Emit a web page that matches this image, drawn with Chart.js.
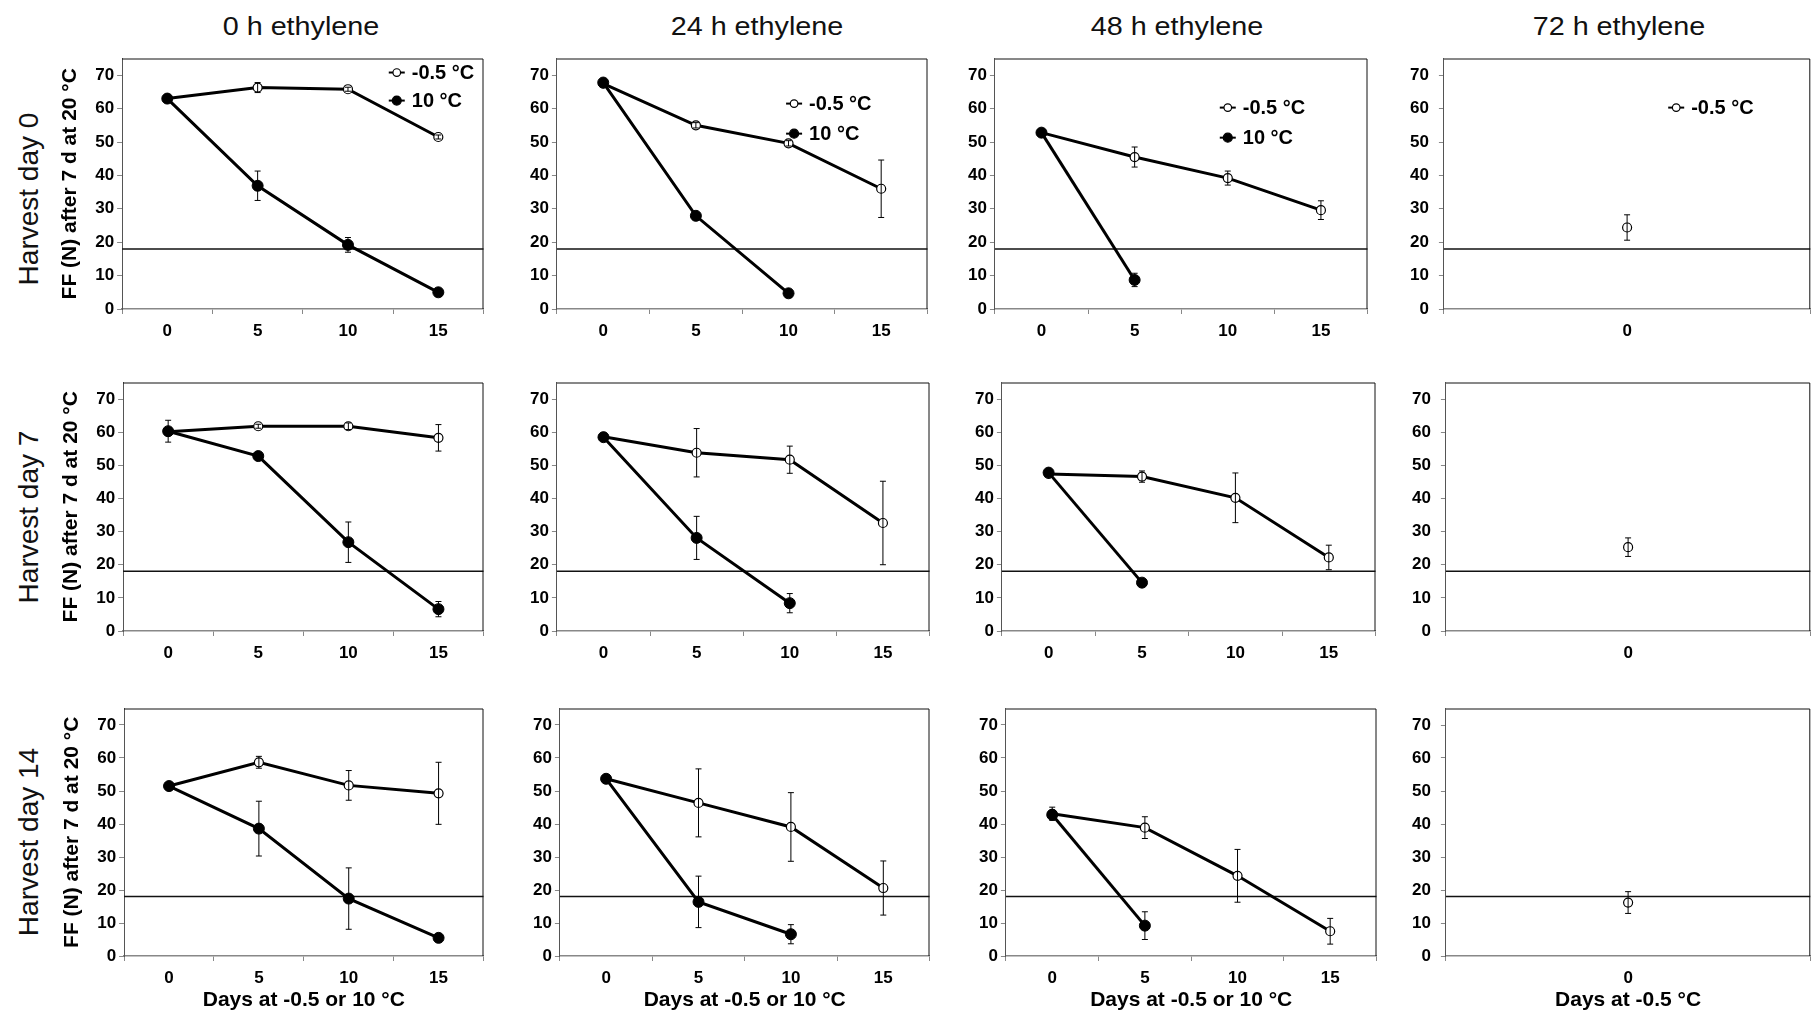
<!DOCTYPE html>
<html>
<head>
<meta charset="utf-8">
<script src="https://cdn.jsdelivr.net/npm/chart.js@4.4.0/dist/chart.umd.min.js"></script>
<style>
body { margin:0; background:#fff; width:1811px; height:1018px; overflow:hidden; position:relative; font-family:"Liberation Sans", Arial, sans-serif; }
canvas { position:absolute; }
.colt { position:absolute; top:11px; font-size:25px; line-height:30px; color:#111; white-space:nowrap; transform:translateX(-50%) scaleX(1.15); }
.rowt { position:absolute; font-size:28px; line-height:30px; color:#111; white-space:nowrap; transform:translate(-50%,-50%) rotate(-90deg); }
</style>
</head>
<body>
<script>
var dayLabels = ['0', '5', '10', '15'];
var dayLabels72 = ['0'];
var ethyleneTitles = ['0 h ethylene', '24 h ethylene', '48 h ethylene', '72 h ethylene'];
var harvestTitles = ['Harvest day 0', 'Harvest day 7', 'Harvest day 14'];
var seriesNames = ['-0.5 °C', '10 °C'];
var yTicks = [0, 10, 20, 30, 40, 50, 60, 70];
var yMax = 75;
var threshold = 18;
var yTitle = 'FF (N) after 7 d at 20 °C';
var xTitle = 'Days at -0.5 or 10 °C';
var xTitle72 = 'Days at -0.5 °C';

// harvest day 0
var h0e0Cold = [63.0, 66.3, 65.8, 51.5];
var h0e0ColdErr = [0.6, 1.5, 0.6, 0.6];
var h0e0Warm = [63.0, 36.9, 19.2, 5.0];
var h0e0WarmErr = [0.6, 4.4, 2.2, 0.6];
var h0e24Cold = [67.5, 55.0, 49.6, 36.0];
var h0e24ColdErr = [0.6, 0.8, 0.8, 8.6];
var h0e24Warm = [67.8, 27.9, 4.7];
var h0e24WarmErr = [0.6, 0.6, 0.6];
var h0e48Cold = [52.8, 45.5, 39.2, 29.6];
var h0e48ColdErr = [0.6, 3.0, 2.1, 2.8];
var h0e48Warm = [52.8, 8.7];
var h0e48WarmErr = [0.6, 2.0];
var h0e72Cold = [24.4];
var h0e72ColdErr = [3.8];

// harvest day 7
var h7e0Cold = [60.1, 61.8, 61.8, 58.3];
var h7e0ColdErr = [0.6, 0.6, 1.0, 4.0];
var h7e0Warm = [60.3, 52.8, 26.8, 6.6];
var h7e0WarmErr = [3.3, 1.0, 6.1, 2.3];
var h7e24Cold = [58.6, 53.8, 51.7, 32.6];
var h7e24ColdErr = [0.6, 7.3, 4.1, 12.6];
var h7e24Warm = [58.5, 28.1, 8.4];
var h7e24WarmErr = [0.6, 6.5, 2.9];
var h7e48Cold = [47.4, 46.6, 40.2, 22.2];
var h7e48ColdErr = [0.6, 1.7, 7.5, 3.7];
var h7e48Warm = [47.8, 14.6];
var h7e48WarmErr = [0.6, 0.6];
var h7e72Cold = [25.3];
var h7e72ColdErr = [2.8];

// harvest day 14
var h14e0Cold = [51.5, 58.7, 51.7, 49.3];
var h14e0ColdErr = [0.6, 1.8, 4.5, 9.4];
var h14e0Warm = [51.5, 38.6, 17.4, 5.5];
var h14e0WarmErr = [0.6, 8.3, 9.3, 0.6];
var h14e24Cold = [53.7, 46.4, 39.1, 20.6];
var h14e24ColdErr = [0.6, 10.3, 10.4, 8.2];
var h14e24Warm = [53.7, 16.4, 6.6];
var h14e24WarmErr = [0.8, 7.8, 2.9];
var h14e48Cold = [43.1, 38.9, 24.3, 7.5];
var h14e48ColdErr = [2.0, 3.3, 8.0, 3.9];
var h14e48Warm = [42.8, 9.2];
var h14e48WarmErr = [0.6, 4.2];
var h14e72Cold = [16.2];
var h14e72ColdErr = [3.3];

var panels = [
    [
        {cold: h0e0Cold, coldErr: h0e0ColdErr, warm: h0e0Warm, warmErr: h0e0WarmErr},
        {cold: h0e24Cold, coldErr: h0e24ColdErr, warm: h0e24Warm, warmErr: h0e24WarmErr},
        {cold: h0e48Cold, coldErr: h0e48ColdErr, warm: h0e48Warm, warmErr: h0e48WarmErr},
        {cold: h0e72Cold, coldErr: h0e72ColdErr}
    ],
    [
        {cold: h7e0Cold, coldErr: h7e0ColdErr, warm: h7e0Warm, warmErr: h7e0WarmErr},
        {cold: h7e24Cold, coldErr: h7e24ColdErr, warm: h7e24Warm, warmErr: h7e24WarmErr},
        {cold: h7e48Cold, coldErr: h7e48ColdErr, warm: h7e48Warm, warmErr: h7e48WarmErr},
        {cold: h7e72Cold, coldErr: h7e72ColdErr}
    ],
    [
        {cold: h14e0Cold, coldErr: h14e0ColdErr, warm: h14e0Warm, warmErr: h14e0WarmErr},
        {cold: h14e24Cold, coldErr: h14e24ColdErr, warm: h14e24Warm, warmErr: h14e24WarmErr},
        {cold: h14e48Cold, coldErr: h14e48ColdErr, warm: h14e48Warm, warmErr: h14e48WarmErr},
        {cold: h14e72Cold, coldErr: h14e72ColdErr}
    ]
];

// plot boxes on the page
var rowBoxes = [{t: 58, b: 308}, {t: 382, b: 630}, {t: 708, b: 955}];
var colBoxes = [
    [[122, 483], [557, 928], [995, 1368], [1444, 1810]],
    [[123, 483], [557, 930], [1002, 1376], [1446, 1810]],
    [[124, 483], [560, 930], [1006, 1377], [1446, 1810]]
];
var legendPos = [
    {x: 0.76, y: [0.056, 0.168]},
    {x: 0.64, y: [0.18, 0.30]},
    {x: 0.625, y: [0.196, 0.316]},
    {x: 0.634, y: [0.196]}
];
var titleX = [301, 757, 1177, 1619];
var rowTitleY = [199, 517, 842];

var FONT = '"Liberation Sans", Arial, sans-serif';

// titles
ethyleneTitles.forEach(function (t, i) {
    var d = document.createElement('div');
    d.className = 'colt';
    d.style.left = titleX[i] + 'px';
    d.textContent = t;
    document.body.appendChild(d);
});
harvestTitles.forEach(function (t, i) {
    var d = document.createElement('div');
    d.className = 'rowt';
    d.style.left = '29px';
    d.style.top = rowTitleY[i] + 'px';
    d.textContent = t;
    document.body.appendChild(d);
});

// plugins
var boxFrame = {
    id: 'boxFrame',
    afterDraw: function (chart) {
        var ca = chart.chartArea, ctx = chart.ctx;
        ctx.save();
        ctx.strokeStyle = '#111';
        ctx.lineWidth = 1;
        ctx.beginPath();
        ctx.moveTo(ca.left, ca.top + 0.5);
        ctx.lineTo(ca.right - 0.5, ca.top + 0.5);
        ctx.lineTo(ca.right - 0.5, ca.bottom);
        ctx.stroke();
        ctx.restore();
    }
};
var thresholdLine = {
    id: 'thresholdLine',
    beforeDatasetsDraw: function (chart) {
        var ca = chart.chartArea, ctx = chart.ctx;
        var y = chart.scales.y.getPixelForValue(threshold);
        ctx.save();
        ctx.strokeStyle = '#111';
        ctx.lineWidth = 1.5;
        ctx.beginPath();
        ctx.moveTo(ca.left, y);
        ctx.lineTo(ca.right, y);
        ctx.stroke();
        ctx.restore();
    }
};
var errorBars = {
    id: 'errorBars',
    afterDatasetsDraw: function (chart) {
        var ctx = chart.ctx, ys = chart.scales.y;
        chart.data.datasets.forEach(function (ds, di) {
            var meta = chart.getDatasetMeta(di);
            if (!ds.errors) return;
            meta.data.forEach(function (pt, i) {
                var e = ds.errors[i];
                if (!e) return;
                var top = ys.getPixelForValue(ds.data[i] + e);
                var bot = ys.getPixelForValue(ds.data[i] - e);
                ctx.save();
                ctx.strokeStyle = '#000';
                ctx.lineWidth = 1;
                ctx.beginPath();
                ctx.moveTo(pt.x, top); ctx.lineTo(pt.x, bot);
                ctx.moveTo(pt.x - 3, top); ctx.lineTo(pt.x + 3, top);
                ctx.moveTo(pt.x - 3, bot); ctx.lineTo(pt.x + 3, bot);
                ctx.stroke();
                ctx.restore();
            });
        });
    }
};
var panelLegend = {
    id: 'panelLegend',
    afterDraw: function (chart, args, opts) {
        if (!opts || !opts.show) return;
        var ca = chart.chartArea, ctx = chart.ctx;
        opts.items.forEach(function (it, i) {
            var x = ca.left + opts.x * (ca.right - ca.left);
            var y = ca.top + opts.y[i] * (ca.bottom - ca.top);
            ctx.save();
            ctx.strokeStyle = '#000';
            ctx.lineWidth = 2;
            ctx.beginPath(); ctx.moveTo(x - 8, y); ctx.lineTo(x + 8, y); ctx.stroke();
            ctx.beginPath();
            ctx.arc(x, y, it.filled ? 4.5 : 3.8, 0, 2 * Math.PI);
            ctx.fillStyle = it.filled ? '#000' : '#fff';
            ctx.fill();
            ctx.lineWidth = 1.2;
            ctx.stroke();
            ctx.font = 'bold 20px ' + FONT;
            ctx.fillStyle = '#000';
            ctx.textBaseline = 'middle';
            ctx.fillText(it.text, x + 15, y + 1);
            ctx.restore();
        });
    }
};

function makeConfig(r, c) {
    var p = panels[r][c];
    var datasets = [];
    var items = [{text: seriesNames[0], filled: false}];
    if (p.warm) {
        datasets.push({
            label: seriesNames[1], data: p.warm, errors: p.warmErr,
            borderColor: '#000', backgroundColor: '#000', borderWidth: 3,
            pointRadius: 5.5, pointBackgroundColor: '#000', pointBorderColor: '#000', pointBorderWidth: 1
        });
        items.push({text: seriesNames[1], filled: true});
    }
    datasets.push({
        label: seriesNames[0], data: p.cold, errors: p.coldErr,
        borderColor: '#000', backgroundColor: '#fff', borderWidth: 3, showLine: c < 3,
        pointRadius: 4.5, pointBackgroundColor: '#fff', pointBorderColor: '#000', pointBorderWidth: 1.2
    });
    var tickFont = {family: FONT, size: 17, weight: 'bold', lineHeight: 1.0};
    return {
        type: 'line',
        data: {labels: c < 3 ? dayLabels : dayLabels72, datasets: datasets},
        options: {
            responsive: false,
            animation: false,
            devicePixelRatio: 1,
            layout: {padding: {left: 0, right: 2, top: 2, bottom: 2}},
            scales: {
                x: {
                    type: 'category', offset: true,
                    grid: {offset: true, drawOnChartArea: false, drawTicks: true, tickLength: 5, color: '#888'},
                    border: {display: true, color: '#888', width: 1.5},
                    ticks: {color: '#000', font: tickFont, padding: 9, maxRotation: 0, autoSkip: false},
                    title: {display: r === 2, text: c < 3 ? xTitle : xTitle72, color: '#000',
                        font: {family: FONT, size: 21, weight: 'bold', lineHeight: 1.0}, padding: {top: -6, bottom: 0}}
                },
                y: {
                    min: 0, max: yMax,
                    afterBuildTicks: function (s) { s.ticks = yTicks.map(function (v) { return {value: v}; }); },
                    grid: {drawOnChartArea: false, drawTicks: true, tickLength: 5, color: '#888'},
                    border: {display: true, color: '#555', width: 1},
                    ticks: {color: '#000', font: tickFont, padding: c === 3 ? 10 : 3},
                    title: {display: c === 0, text: yTitle, color: '#000',
                        font: {family: FONT, size: 21, weight: 'bold'}, padding: {top: 2, bottom: 9}}
                }
            },
            plugins: {
                legend: {display: false},
                tooltip: {enabled: false},
                panelLegend: {show: r === 0, items: items, x: legendPos[c].x, y: legendPos[c].y}
            }
        },
        plugins: [thresholdLine, errorBars, boxFrame, panelLegend]
    };
}

function buildPanel(r, c) {
    var box = {l: colBoxes[r][c][0], r: colBoxes[r][c][1], t: rowBoxes[r].t, b: rowBoxes[r].b};
    var cv = document.createElement('canvas');
    cv.width = 500;
    cv.height = 340;
    document.body.appendChild(cv);
    var chart = new Chart(cv, makeConfig(r, c));
    var ca = chart.chartArea;
    var mL = ca.left, mT = ca.top, mR = chart.width - ca.right, mB = chart.height - ca.bottom;
    chart.destroy();
    cv.width = Math.round((box.r - box.l) + mL + mR);
    cv.height = Math.round((box.b - box.t) + mT + mB);
    cv.style.left = Math.round(box.l - mL) + 'px';
    cv.style.top = Math.round(box.t - mT) + 'px';
    new Chart(cv, makeConfig(r, c));
}

for (var r = 0; r < 3; r++) {
    for (var c = 0; c < 4; c++) {
        buildPanel(r, c);
    }
}
</script>
</body>
</html>
